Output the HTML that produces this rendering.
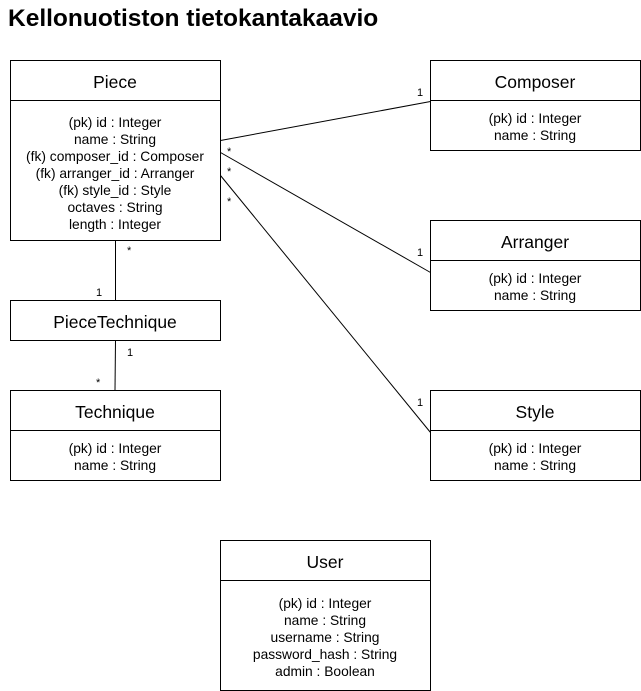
<!DOCTYPE html>
<html><head><meta charset="utf-8"><style>
html,body{margin:0;padding:0;background:#fff;}
svg{display:block;font-family:"Liberation Sans",Arial,sans-serif;}
</style></head><body>
<svg width="641" height="691" viewBox="0 0 641 691" xmlns="http://www.w3.org/2000/svg">
<text x="8" y="26" font-size="24.5" font-weight="bold" fill="#000">Kellonuotiston tietokantakaavio</text>
<g fill="none" stroke="#000" stroke-width="1">
<rect x="10.5" y="60.5" width="210" height="180"/><line x1="10.5" y1="100.5" x2="220.5" y2="100.5"/>
<rect x="430.5" y="60.5" width="210" height="90"/><line x1="430.5" y1="100.5" x2="640.5" y2="100.5"/>
<rect x="430.5" y="220.5" width="210" height="90"/><line x1="430.5" y1="260.5" x2="640.5" y2="260.5"/>
<rect x="430.5" y="390.5" width="210" height="90"/><line x1="430.5" y1="430.5" x2="640.5" y2="430.5"/>
<rect x="10.5" y="300.5" width="210" height="40"/>
<rect x="10.5" y="390.5" width="210" height="90"/><line x1="10.5" y1="430.5" x2="220.5" y2="430.5"/>
<rect x="220.5" y="540.5" width="210" height="150"/><line x1="220.5" y1="580.5" x2="430.5" y2="580.5"/>
<line x1="220.5" y1="140.5" x2="430.5" y2="101.5"/>
<line x1="220.5" y1="152.5" x2="430.5" y2="272.5"/>
<line x1="220.5" y1="175.5" x2="430.5" y2="432.5"/>
<line x1="115.5" y1="240.5" x2="115.5" y2="300.5"/>
<line x1="115.5" y1="340.5" x2="115" y2="390.5"/>
</g>
<g font-size="17.5" text-anchor="middle" fill="#000">
<text x="115" y="88">Piece</text>
<text x="535" y="88">Composer</text>
<text x="535" y="248">Arranger</text>
<text x="535" y="418">Style</text>
<text x="115" y="328">PieceTechnique</text>
<text x="115" y="418">Technique</text>
<text x="325" y="568">User</text>
</g>
<g font-size="13.8" text-anchor="middle" fill="#000">
<text x="115" y="127">(pk) id : Integer</text>
<text x="115" y="144">name : String</text>
<text x="115" y="161">(fk) composer_id : Composer</text>
<text x="115" y="178">(fk) arranger_id : Arranger</text>
<text x="115" y="195">(fk) style_id : Style</text>
<text x="115" y="212">octaves : String</text>
<text x="115" y="229">length : Integer</text>
<text x="535" y="123">(pk) id : Integer</text>
<text x="535" y="140">name : String</text>
<text x="535" y="283">(pk) id : Integer</text>
<text x="535" y="300">name : String</text>
<text x="535" y="453">(pk) id : Integer</text>
<text x="535" y="470">name : String</text>
<text x="115" y="453">(pk) id : Integer</text>
<text x="115" y="470">name : String</text>
<text x="325" y="608">(pk) id : Integer</text>
<text x="325" y="625">name : String</text>
<text x="325" y="642">username : String</text>
<text x="325" y="659">password_hash : String</text>
<text x="325" y="676">admin : Boolean</text>
</g>
<g font-size="11" fill="#000">
<text x="417" y="96">1</text>
<text x="227" y="155">*</text>
<text x="227" y="175">*</text>
<text x="227" y="205">*</text>
<text x="417" y="256">1</text>
<text x="417" y="406">1</text>
<text x="127" y="254">*</text>
<text x="96" y="296">1</text>
<text x="127" y="356">1</text>
<text x="96" y="386">*</text>
</g>
</svg>
</body></html>
